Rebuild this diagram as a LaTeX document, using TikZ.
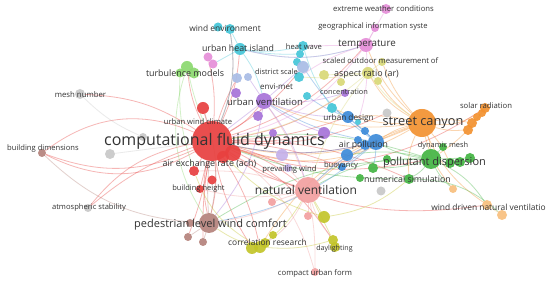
\documentclass[tikz,border=0pt]{standalone}
\usepackage{fontspec}
\setmainfont{Open Sans}
\usetikzlibrary{backgrounds}
\definecolor{vred}{HTML}{E8403F}
\definecolor{vsalmon}{HTML}{F2A0A0}
\definecolor{vorange}{HTML}{F39230}
\definecolor{vgreen}{HTML}{44B544}
\definecolor{vblue}{HTML}{3D8BDA}
\definecolor{vpurple}{HTML}{A774D9}
\definecolor{vcyan}{HTML}{45C6D8}
\definecolor{vmagenta}{HTML}{E58FD9}
\definecolor{vyellow}{HTML}{D9D877}
\definecolor{volive}{HTML}{C3C52A}
\definecolor{vbrown}{HTML}{B5837C}
\definecolor{vlblue}{HTML}{A9BCE6}
\definecolor{vlav}{HTML}{C5B1EA}
\definecolor{vlorange}{HTML}{F8C07E}
\definecolor{vgrey}{HTML}{C8C8C8}
\definecolor{vlgreen}{HTML}{8BD96F}
\tikzset{kw/.style={circle,inner sep=0pt,minimum size=#1,fill opacity=.92},
 lab/.style={font=\fontsize{#1}{#1}\selectfont,text=black!80,inner sep=0pt},
 lab/.default=8,
 link/.style={draw=#1,line width=.8pt,draw opacity=.38}}

\begin{document}
\begin{tikzpicture}[x=1pt,y=-1pt]
\useasboundingbox (0,0) rectangle (550,283);
% unlabelled bubbles
\foreach \n/\x/\y/\d/\c in {g1/143/137/8/vgrey, g2/110/154/10/vgrey, g3/387/113/9/vgrey, g4/381/191/9/vgrey,
  r1/233/153/16/vred, r2/223/157/12/vred, r3/212/180/9/vred,
  m1/208/57/9/vmagenta, m2/213/64/9/vmagenta,
  l1/237/78/10/vlblue, l2/248/77/8/vlblue,
  c1/299/77/10/vcyan, c2/297/62/8/vcyan, c3/300/54/8/vcyan, c4/307/96/8/vcyan, c5/332/108/10/vcyan, c6/358/122/6/vcyan,
  y1/324/75/10/vyellow, y2/341/82/8/vyellow, y3/378/81/8/vyellow,
  b1/365/131/8/vblue, b2/358/140/8/vblue, b3/365/145/10/vblue, b4/347/155/12/vblue,
  p1/324/133/12/vpurple, p2/273/133/8/vpurple, p3/258/116/10/vpurple, p4/236/93/10/vpurple,
  v1/282/155/12/vlav,
  e1/373/168/10/vgreen, e2/360/178/8/vgreen, e3/387/159/8/vgreen, e4/450/163/10/vgreen, e5/460/162/10/vgreen, e6/470/158/10/vgreen,
  t1/218/27/9/vcyan, n1/180/73/9/vlgreen, n2/194/73/11/vlgreen,
  o1/482/113/8/vorange, o2/477/117/8/vorange, o3/472/123/10/vorange, o4/468/130/10/vorange,
  w1/453/189/8/vlorange, w2/502/215/10/vlorange,
  s1/272/202/8/vsalmon, s2/308/216/8/vsalmon,
  k1/324/217/12/volive, k2/252/248/12/volive, k3/265/243/10/volive, k4/273/235/8/volive, k5/335/247/10/volive,
  h1/188/237/8/vbrown, h2/203/242/8/vbrown, h3/190/223/8/vbrown}
  \node[kw=\d pt,fill=\c] (\n) at (\x,\y) {};
% keyword bubbles
\node[kw=40pt,fill=vred] (cfd) at (212,141) {};
\node[kw=26pt,fill=vsalmon] (nv) at (308,190) {};
\node[kw=28pt,fill=vorange] (sc) at (422,123) {};
\node[kw=20pt,fill=vgreen] (pd) at (431,159) {};
\node[kw=20pt,fill=vbrown] (plwc) at (209,223) {};
\node[kw=16pt,fill=vpurple] (uv) at (264,101) {};
\node[kw=14pt,fill=vmagenta] (temp) at (366,45) {};
\node[kw=12pt,fill=vyellow] (ar) at (368,73) {};
\node[kw=16pt,fill=vblue] (ap) at (376,142) {};
\node[kw=12pt,fill=vcyan] (uhi) at (240,49) {};
\node[kw=10pt,fill=vcyan] (we) at (230,29) {};
\node[kw=12pt,fill=vlgreen] (tm) at (187,67) {};
\node[kw=10pt,fill=vcyan] (hw) at (303,46) {};
\node[kw=12pt,fill=vlblue] (ds) at (303,67) {};
\node[kw=8pt,fill=vpurple] (conc) at (345,93) {};
\node[kw=12pt,fill=vblue] (ud) at (348,117) {};
\node[kw=8pt,fill=vgreen] (dm) at (443,147) {};
\node[kw=8pt,fill=vblue] (bu) at (342,167) {};
\node[kw=8pt,fill=vlav] (pw) at (288,168) {};
\node[kw=10pt,fill=vgreen] (ns) at (409,179) {};
\node[kw=10pt,fill=vred] (aer) at (194,171) {};
\node[kw=8pt,fill=vred] (bh) at (200,189) {};
\node[kw=12pt,fill=vred] (uwc) at (203,108) {};
\node[kw=10pt,fill=vgrey] (mn) at (80,94) {};
\node[kw=8pt,fill=vbrown] (bd) at (42,153) {};
\node[kw=8pt,fill=vgrey] (as) at (88,208) {};
\node[kw=12pt,fill=volive] (cr) at (260,247) {};
\node[kw=10pt,fill=volive] (dl) at (333,240) {};
\node[kw=8pt,fill=vsalmon] (cuf) at (315,272) {};
\node[kw=10pt,fill=vlorange] (wdnv) at (487,205) {};
\node[kw=10pt,fill=vorange] (sr) at (485,108) {};
\node[kw=10pt,fill=vmagenta] (ewc) at (386,9) {};
\node[kw=8pt,fill=vmagenta] (gis) at (375,28) {};
\node[kw=8pt,fill=vyellow] (som) at (382,62) {};
\begin{scope}[on background layer]
\fill[white] (0,0) rectangle (550,283);
\foreach \a/\b/\c/\k in {cfd/mn/vred/-15, cfd/bd/vred/-30, cfd/bd/vred/28, cfd/bd/vred/22, cfd/as/vred/-20, cfd/g2/vgrey/0,
  cfd/plwc/vred/10, cfd/plwc/vred/-12, cfd/bh/vred/0, cfd/aer/vred/0, cfd/uwc/vred/0, cfd/nv/vred/-10, cfd/nv/vred/10,
  cfd/uv/vred/-10, cfd/pd/vred/-15, cfd/ap/vred/-12, cfd/tm/vred/10, cfd/uhi/vred/-10, cfd/we/vred/-15, cfd/cr/vred/10,
  cfd/dl/vred/15, cfd/wdnv/vred/-20, cfd/sr/vred/-25, cfd/temp/vred/-15, cfd/h1/vred/5, cfd/h2/vred/-5, cfd/k2/vred/-10,
  cfd/m1/vred/-8, cfd/l1/vred/5, cfd/ds/vred/-10, cfd/conc/vred/-12, cfd/ud/vred/-8, cfd/bu/vred/8, cfd/pw/vred/6,
  cfd/ns/vred/12, cfd/g3/vred/-14, cfd/p1/vred/-6,
  sc/cfd/vorange/18, sc/cfd/vorange/24, sc/uv/vorange/15, sc/nv/vorange/-10, sc/sr/vorange/-20, sc/o3/vorange/10,
  sc/ar/vorange/15, sc/pd/vorange/10, sc/ap/vorange/-10, sc/wdnv/vorange/-15, sc/som/vorange/10, sc/ns/vorange/-15,
  sc/temp/vorange/12, sc/ud/vorange/-8, sc/cr/vorange/-20, sc/c5/vorange/12, sc/o4/vorange/-10, sc/w1/vorange/-12,
  sc/e4/vorange/8, sc/y3/vorange/10,
  pd/ns/vgreen/10, pd/cfd/vgreen/-12, pd/nv/vgreen/-15, pd/dm/vgreen/0, pd/wdnv/vgreen/15, pd/plwc/vgreen/-15, pd/ap/vgreen/10,
  pd/w1/vgreen/-10, pd/e6/vgreen/0, pd/e1/vgreen/8, pd/b4/vgreen/-10, ns/cfd/vgreen/10, ns/w2/vgreen/20,
  tm/cfd/vlgreen/-5, tm/plwc/vlgreen/-25, n1/aer/vlgreen/-10,
  nv/cuf/vsalmon/5, nv/dl/vsalmon/-10, nv/cr/vsalmon/15, nv/plwc/vsalmon/10, nv/uv/vsalmon/-8, nv/ap/vsalmon/10,
  nv/bh/vsalmon/12, nv/aer/vsalmon/-10, nv/s1/vsalmon/0, nv/pw/vsalmon/0, nv/s2/vsalmon/0, cuf/cfd/vsalmon/-20,
  ap/ud/vblue/0, ap/cfd/vblue/12, ap/bu/vblue/0, ap/nv/vblue/-10, ap/uv/vblue/10, ap/ds/vblue/10, ap/plwc/vblue/15,
  ap/c5/vblue/-6, ap/b1/vblue/0, ap/e1/vblue/5, ud/c4/vblue/8,
  uv/cfd/vpurple/0, uv/conc/vpurple/-10, uv/nv/vpurple/10, uv/ds/vpurple/0, uv/plwc/vpurple/15, uv/ud/vpurple/-10,
  uv/p1/vpurple/-8, uv/p3/vpurple/0, uv/l2/vpurple/0,
  uhi/we/vcyan/0, uhi/hw/vcyan/-10, uhi/temp/vcyan/-15, uhi/uv/vcyan/10, uhi/c3/vcyan/-6, uhi/m2/vcyan/0, hw/c5/vcyan/-8, we/cfd/vcyan/15,
  temp/ewc/vmagenta/0, temp/gis/vmagenta/0, temp/uhi/vmagenta/15, temp/cfd/vmagenta/20, temp/c6/vmagenta/10,
  temp/c1/vmagenta/-8, temp/hw/vmagenta/0,
  ar/sc/vyellow/-10, ar/cfd/vyellow/15, ar/som/vyellow/0, ar/nv/vyellow/-10, ar/y1/vyellow/0, ar/y3/vyellow/0, ar/c1/vyellow/6,
  cr/nv/volive/-10, cr/plwc/volive/10, cr/dl/volive/-10, dl/nv/volive/0, k1/cfd/volive/15, k1/ns/volive/-15, cr/aer/volive/20,
  k1/nv/volive/0, dl/k5/volive/0, cr/k2/volive/0,
  plwc/bd/vbrown/20, plwc/uwc/vbrown/-15, plwc/h1/vbrown/0, plwc/h2/vbrown/0, plwc/cfd/vbrown/5,
  mn/g1/vgrey/-10, as/cfd/vred/10, wdnv/w2/vlorange/0, sr/pd/vorange/10}
  \draw[link=\c] (\a) to[bend left=\k] (\b);
\end{scope}
% labels
\node[lab=16] (cfd-l) at (214.5,141) {computational fluid dynamics};
\node[lab=12.8] (sc-l) at (423,123) {street canyon};
\node[lab=12] (nv-l) at (306,190) {natural ventilation};
\node[lab=11] (plwc-l) at (210.5,225) {pedestrian level wind comfort};
\node[lab=11] (pd-l) at (434.5,163) {pollutant dispersion};
\node[lab=9.5] (uv-l) at (265,102) {urban ventilation};
\node[lab=9.8] (temp-l) at (367,44) {temperature};
\node[lab=8.9] (ar-l) at (366.5,74) {aspect ratio (ar)};
\node[lab=8.7] (ap-l) at (363.5,145) {air pollution};
\node[lab=8.8] (uhi-l) at (238,48) {urban heat island};
\node[lab=8.4] (we-l) at (225,28) {wind environment};
\node[lab=8.9] (tm-l) at (185,73) {turbulence models};
\node[lab=7.6] (hw-l) at (304,47) {heat wave};
\node[lab=7.4] (ds-l) at (276.5,72) {district scale};
\node[lab=8] (envi-l) at (276.5,87) {envi-met};
\node[lab=7.4] (conc-l) at (344,92) {concentration};
\node[lab=8.2] (ud-l) at (348.5,118) {urban design};
\node[lab=7.4] (dm-l) at (443,146) {dynamic mesh};
\node[lab=7.6] (bu-l) at (341,166) {buoyancy};
\node[lab=7.7] (pw-l) at (289.5,170) {prevailing wind};
\node[lab=8.8] (ns-l) at (407.5,179) {numerical simulation};
\node[lab=8.9] (aer-l) at (209.5,164) {air exchange rate (ach)};
\node[lab=7.5] (bh-l) at (198.5,189) {building height};
\node[lab=7.6] (uwc-l) at (198,122) {urban wind climate};
\node[lab=7.8] (mn-l) at (80.5,95) {mesh number};
\node[lab=7.6] (bd-l) at (43,149) {building dimensions};
\node[lab=7.6] (as-l) at (89,208) {atmospheric stability};
\node[lab=8.4] (cr-l) at (267.5,242) {correlation research};
\node[lab=7.1] (dl-l) at (334.5,249) {daylighting};
\node[lab=7.7] (cuf-l) at (315,273) {compact urban form};
\node[lab=8.4] (wdnv-l) at (488.5,207) {wind driven natural ventilatio};
\node[lab=7.7] (sr-l) at (486,106) {solar radiation};
\node[lab=7.7] (ewc-l) at (383.5,9) {extreme weather conditions};
\node[lab=7.6] (gis-l) at (373,27) {geographical information syste};
\node[lab=7.7] (som-l) at (380.5,61) {scaled outdoor measurement of};
\end{tikzpicture}
\end{document}
